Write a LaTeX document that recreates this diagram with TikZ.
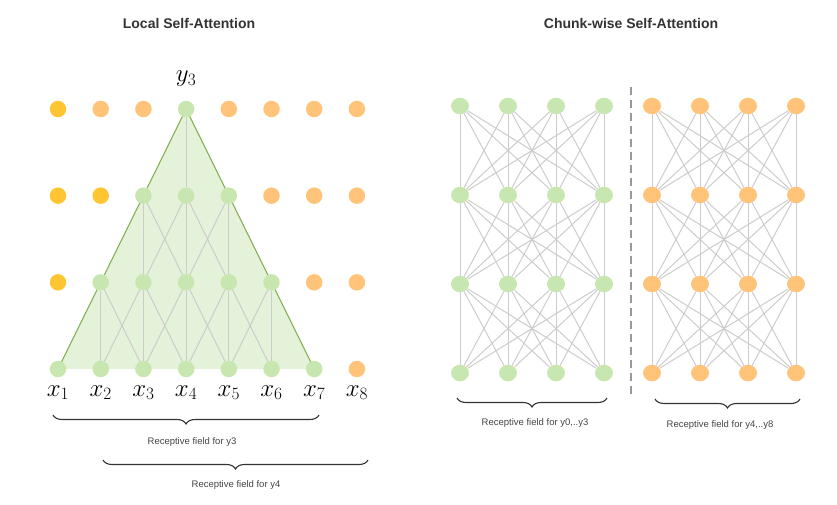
\documentclass[tikz,border=0pt]{standalone}
\usepackage{fontspec}
\usepackage{xcolor}
\usepackage{tikz}
\usetikzlibrary{calc}
\usetikzlibrary{shapes.geometric}
\usetikzlibrary{decorations.pathreplacing}
\usetikzlibrary{backgrounds}

\newfontfamily\diagfont{Liberation Sans}

\definecolor{dotgold}{HTML}{FFC532}
\definecolor{dotorange}{HTML}{FFC47A}
\definecolor{dotgreen}{HTML}{C8E6B0}
\definecolor{trifill}{HTML}{E4F2DA}
\definecolor{triedge}{HTML}{7CB342}
\definecolor{linkgray}{HTML}{CCCCCC}
\definecolor{bracegray}{HTML}{333333}
\definecolor{textgray}{HTML}{444444}
\definecolor{sepgray}{HTML}{999999}

\begin{document}
\begin{tikzpicture}[x=1pt,y=-1pt]
% 1 = 1px of the picture
    \def\XLSTART{58}
    \def\XLSTEP{42.7}   %distance of local columns
    \def\YSTART{109}
    \def\YSTEP{86.67}   %distance of local rows

    \def\XGSTART{460}   %first chunk
    \def\XOSTART{652}   %second chunk
    \def\XRSTEP{48}
    \def\YRSTART{106}
    \def\YRSTEP{89}

    \tikzset{
      dot/.style={circle,minimum size=16.5pt,inner sep=0pt},
      dotgo/.style={dot,fill=dotgold},
      dotor/.style={dot,fill=dotorange},
      dotgr/.style={dot,fill=dotgreen},
      chunkdot/.style={ellipse,minimum width=18pt,minimum height=16.5pt,inner sep=0pt},
      link/.style={draw=linkgray,line width=1pt},
      fieldbrace/.style={decorate,decoration={brace,mirror,amplitude=9pt},
        line width=1.1pt,draw=bracegray},
      fieldlabel/.style={font=\diagfont\fontsize{9.5pt}{11pt}\selectfont,text=textgray},
      title/.style={font=\diagfont\bfseries\fontsize{14pt}{16pt}\selectfont,text=bracegray},
      tokenlabel/.style={font=\fontsize{25pt}{29pt}\selectfont,anchor=base,inner sep=0pt},
    }

    \useasboundingbox (0,0) rectangle (837,505);

    % TITLES
    \node[title] (titleL) at (189,23) {Local Self-Attention};
    \node[title] (titleR) at (631,23) {Chunk-wise Self-Attention};

    % LOCAL SELF-ATTENTION DOTS
    \foreach \r/\cols in {1/{go,or,or,gr,or,or,or,or},
                          2/{go,go,gr,gr,gr,or,or,or},
                          3/{go,gr,gr,gr,gr,gr,or,or},
                          4/{gr,gr,gr,gr,gr,gr,gr,or}}{
      \foreach \s [count=\c] in \cols {
        \node[dot\s] (L\r\c) at ({\XLSTART+(\c-1)*\XLSTEP},{\YSTART+(\r-1)*\YSTEP}) {};
      }
    }

    % TRIANGLE AND WINDOW LINKS
    \begin{scope}[on background layer]
      \fill[trifill] (L14.center) -- (L41.center) -- (L47.center) -- cycle;
      \foreach \r/\lo/\hi in {1/4/4,2/3/5,3/2/6}{
        \foreach \c in {\lo,...,\hi}{
          \foreach \d in {-1,0,1}{
            \pgfmathtruncatemacro{\rr}{\r+1}
            \pgfmathtruncatemacro{\cc}{\c+\d}
            \draw[link] (L\r\c) -- (L\rr\cc);
          }
        }
      }
      \draw[triedge,line width=0.9pt] (L41.center) -- (L14.center) -- (L47.center);
    \end{scope}

    % TOKEN LABELS
    \foreach \c in {1,...,8}{
      \node[tokenlabel] (X\c) at ({\XLSTART+(\c-1)*\XLSTEP},396) {$x_{\c}$};
    }
    \node[tokenlabel] (Y3) at (186.1,82) {$y_{3}$};

    % RECEPTIVE FIELDS (LOCAL)
    \coordinate (F3A) at (53,415);
    \coordinate (F3B) at (319,415);
    \draw[fieldbrace] (F3A) -- (F3B);
    \node[fieldlabel] (F3label) at (192,442) {Receptive field for y3};

    \coordinate (F4A) at (103,460);
    \coordinate (F4B) at (368,460);
    \draw[fieldbrace] (F4A) -- (F4B);
    \node[fieldlabel] (F4label) at (236,485) {Receptive field for y4};

    % CHUNK-WISE SELF-ATTENTION DOTS
    \foreach \ch/\xs/\col in {G/\XGSTART/dotgreen, O/\XOSTART/dotorange}{
      \foreach \r in {1,...,4}{
        \foreach \c in {1,...,4}{
          \node[chunkdot,fill=\col] (\ch\r\c)
            at ({\xs+(\c-1)*\XRSTEP},{\YRSTART+(\r-1)*\YRSTEP}) {};
        }
      }
    }

    % FULL LINKS INSIDE EACH CHUNK
    \begin{scope}[on background layer]
      \foreach \ch in {G,O}{
        \foreach \r in {1,2,3}{
          \foreach \c in {1,...,4}{
            \foreach \d in {1,...,4}{
              \pgfmathtruncatemacro{\rr}{\r+1}
              \draw[link] (\ch\r\c) -- (\ch\rr\d);
            }
          }
        }
      }
    \end{scope}

    % CHUNK SEPARATOR
    \coordinate (SEPTOP) at (631,87);
    \coordinate (SEPBOT) at (631,397);
    \draw[sepgray,line width=1.4pt,dash pattern=on 8pt off 5pt] (SEPTOP) -- (SEPBOT);

    % RECEPTIVE FIELDS (CHUNKS)
    \coordinate (FGA) at (457,398);
    \coordinate (FGB) at (607,398);
    \draw[fieldbrace] (FGA) -- (FGB);
    \node[fieldlabel] (FGlabel) at (535,423) {Receptive field for y0,..y3};

    \coordinate (FOA) at (655,399);
    \coordinate (FOB) at (800,399);
    \draw[fieldbrace] (FOA) -- (FOB);
    \node[fieldlabel] (FOlabel) at (720,425) {Receptive field for y4,..y8};

\end{tikzpicture}
\end{document}
